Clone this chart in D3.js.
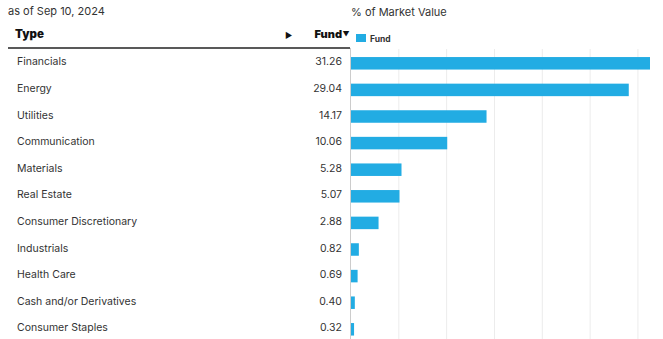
<html>
<head>
<script src="https://cdn.jsdelivr.net/npm/d3@7"></script>
<style>
body { margin:0; background:#fff; font-family: Inter, "Noto Sans", sans-serif; }
svg text { fill:#333; }
</style>
</head>
<body>
<svg id="viz" width="663" height="339"></svg>
<script>
var sectors = ["Financials","Energy","Utilities","Communication","Materials","Real Estate",
  "Consumer Discretionary","Industrials","Health Care","Cash and/or Derivatives","Consumer Staples"];
var fund = [31.26,29.04,14.17,10.06,5.28,5.07,2.88,0.82,0.69,0.40,0.32];
var gridTicks = [5,10,15,20,25,30];

var svg = d3.select("#viz");
var xScale = d3.scaleLinear().domain([0,31.26]).range([351,650]);
var yScale = d3.scaleBand().domain(sectors).range([50,342.6]);
var barH = yScale.bandwidth()*0.47;

// header texts
svg.append("text").text("as of Sep 10, 2024").attr("x",8).attr("y",15).style("font-size","11px");
svg.append("text").text("% of Market Value").attr("x",351).attr("y",16).style("font-size","11px");
svg.append("text").text("Type").attr("x",15).attr("y",38).style("font-size","11.5px").style("font-weight","900").style("fill","#111");
svg.append("text").text("\u25B6").attr("x",285).attr("y",38).style("font-size","8px").style("fill","#111");
svg.append("text").text("Fund").attr("x",342).attr("y",38).attr("text-anchor","end").style("font-size","11px").style("font-weight","900").style("fill","#111");
svg.append("text").text("\u25BC").attr("x",342.5).attr("y",37).style("font-size","7px").style("fill","#111");

// legend
svg.append("rect").attr("x",356).attr("y",34).attr("width",10).attr("height",8).attr("fill","#22ace3");
svg.append("text").text("Fund").attr("x",370).attr("y",42).style("font-size","8.5px").style("font-weight","bold");

// gridlines
svg.selectAll(".grid").data(gridTicks).enter().append("line")
  .attr("x1",function(d){return xScale(d);}).attr("x2",function(d){return xScale(d);})
  .attr("y1",49).attr("y2",339).attr("stroke","#ececec").attr("stroke-width",1);

// bars
svg.selectAll(".bar").data(fund).enter().append("rect")
  .attr("x",xScale(0))
  .attr("y",function(d,i){return yScale(sectors[i])+yScale.bandwidth()/2-barH/2;})
  .attr("width",function(d){return xScale(d)-xScale(0);})
  .attr("height",barH).attr("fill","#22ace3");

// axis line and header rule
svg.append("line").attr("x1",350.5).attr("x2",350.5).attr("y1",48).attr("y2",339).attr("stroke","#ccc");
svg.append("line").attr("x1",8).attr("x2",350).attr("y1",48).attr("y2",48).attr("stroke","#222").attr("stroke-width",1.5);

// row labels
svg.selectAll(".lbl").data(sectors).enter().append("text")
  .text(function(d){return d;}).attr("x",17)
  .attr("y",function(d){return yScale(d)+yScale.bandwidth()/2+2;})
  .style("font-size","10.5px");
svg.selectAll(".val").data(fund).enter().append("text")
  .text(function(d){return d.toFixed(2);}).attr("x",342).attr("text-anchor","end")
  .attr("y",function(d,i){return yScale(sectors[i])+yScale.bandwidth()/2+2;})
  .style("font-size","10.5px");
</script>
</body>
</html>
